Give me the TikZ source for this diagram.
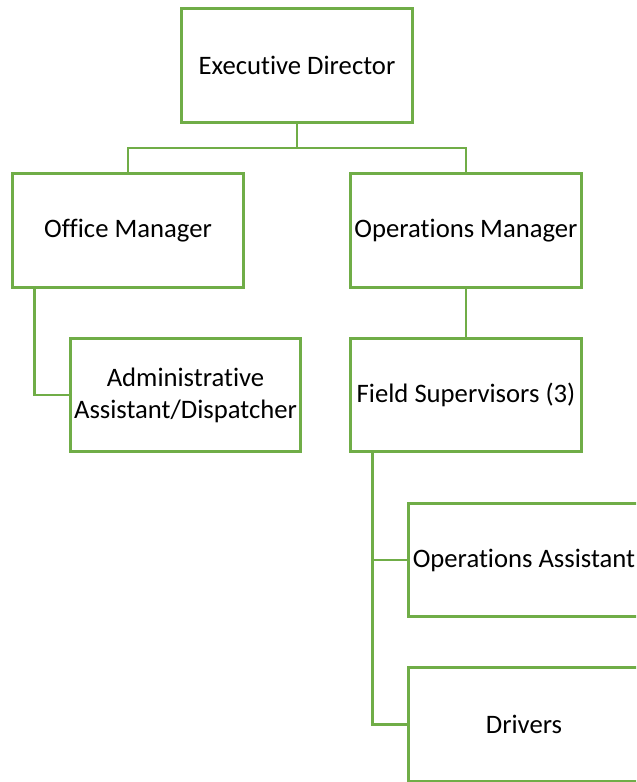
\documentclass[tikz,border=0pt]{standalone}
\usepackage{fontspec}
\setmainfont[Ligatures={NoCommon}]{Carlito}
\usetikzlibrary{calc}
\definecolor{leafgreen}{HTML}{70AD47}
\tikzset{
	orgbox/.style={draw=leafgreen, line width=2.1pt, fill=white, minimum width=173pt, minimum height=85pt, align=center, inner sep=0pt, font=\fontsize{20}{24}\selectfont},
	orgline/.style={draw=leafgreen, line width=2.1pt}
}

\begin{document}
\begin{tikzpicture}[x=0.75pt, y=-0.75pt]
			%%%%% START %%%%%
			
			\path[use as bounding box, clip] (0, 0) rectangle (636, 782);
			
			\node[orgbox] (exec) at (297, 65.5) {Executive Director};
			
			\node[orgbox] (office) at (128, 230.5) {Office Manager};
			\node[orgbox] (opsmgr) at (466, 230.5) {Operations Manager};
			
			\node[orgbox] (admin) at (185.5, 395) {Administrative\\Assistant/Dispatcher};
			\node[orgbox] (field) at (466, 395) {Field Supervisors (3)};
			
			\node[orgbox] (opsasst) at (524, 560) {Operations Assistant};
			\node[orgbox] (drivers) at (524, 724.5) {Drivers};
			
			\coordinate (bus) at (297, 148);
			\draw[orgline] (exec.south) -- (bus);
			\draw[orgline] (office.north) |- (bus) -| (opsmgr.north);
			
			\draw[orgline] ($(office.south west)+(23, 0)$) |- (admin.west);
			\draw[orgline] (opsmgr.south) -- (field.north);
			
			\draw[orgline] ($(field.south west)+(23, 0)$) |- (opsasst.west);
			\draw[orgline] ($(field.south west)+(23, 0)$) |- (drivers.west);
			
			%%%%% END %%%%%
\end{tikzpicture}
\end{document}
